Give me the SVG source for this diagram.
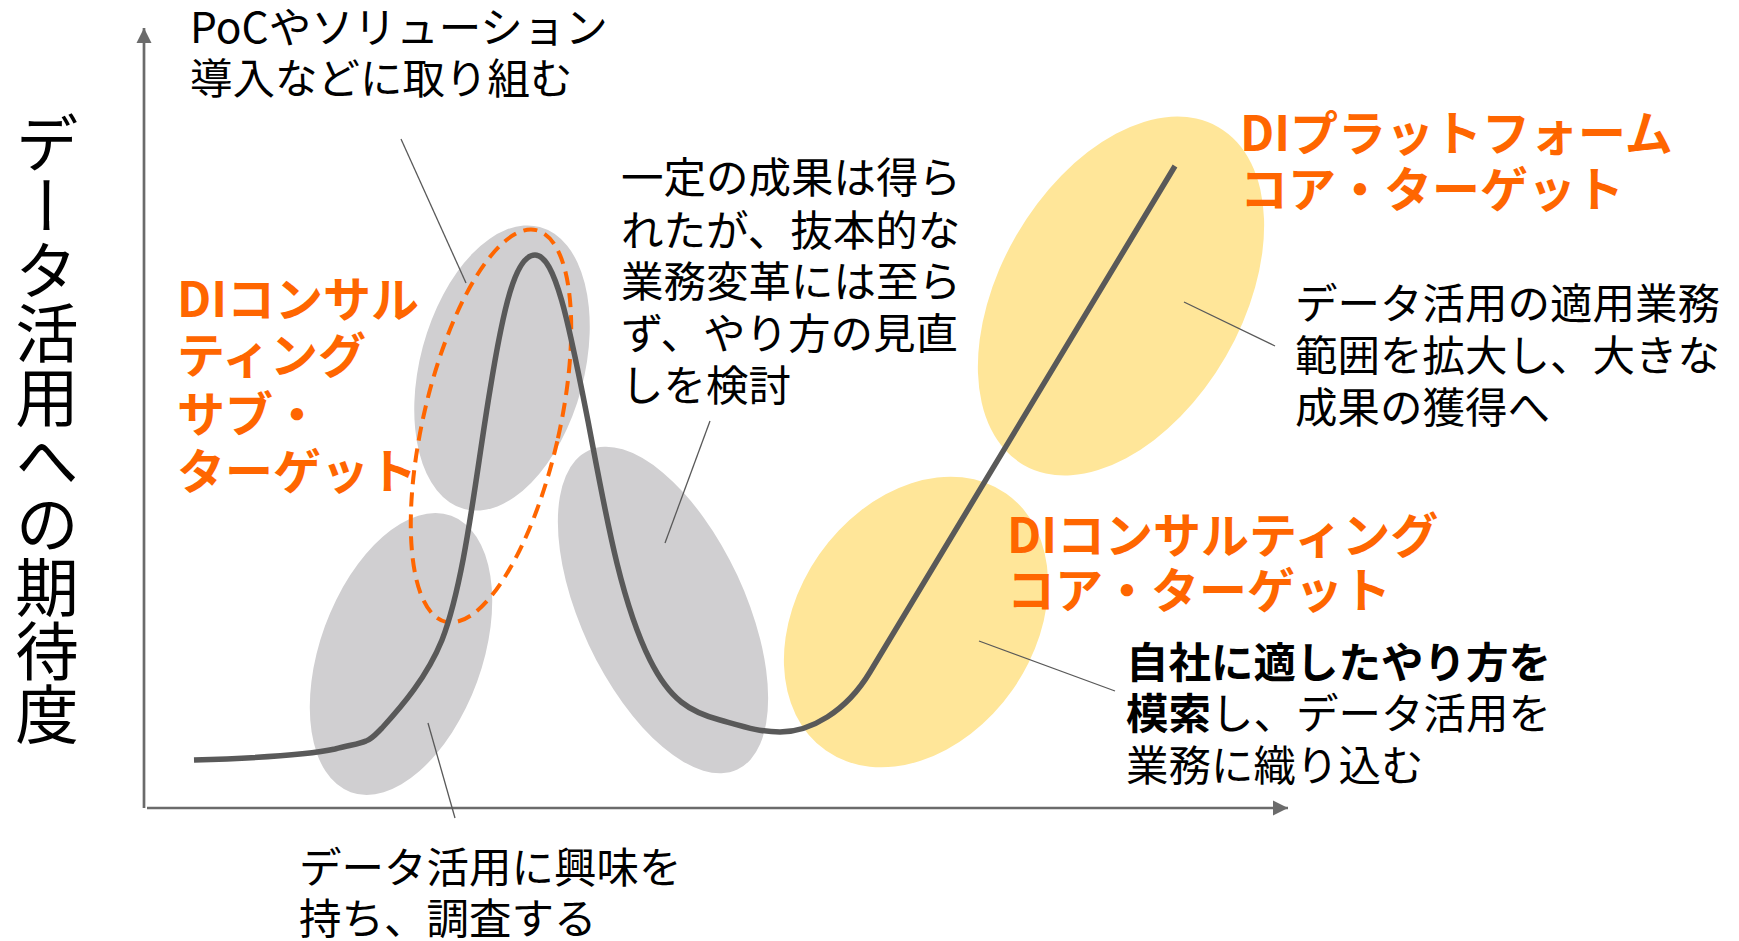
<svg xmlns="http://www.w3.org/2000/svg" width="1739" height="941" viewBox="0 0 1739 941">
<style>
.t{font-family:"Noto Sans CJK JP","Noto Sans",sans-serif;font-size:42.5px;fill:#000}
.o{font-family:"Noto Sans CJK JP","Noto Sans",sans-serif;font-size:48px;font-weight:bold;fill:#FF6600}
.b{font-weight:bold}
.gray{fill:#D0CFD1}
.yel{fill:#FFE699}
.lead{stroke:#595959;stroke-width:1.3;fill:none}
.axis{stroke:#6B6B6B;stroke-width:2.7;fill:none}
</style>
<defs>
<marker id="arr" viewBox="0 0 10 10" refX="10" refY="5" markerWidth="5.7" markerHeight="5.9" orient="auto" markerUnits="strokeWidth">
<path d="M0,0 L10,5 L0,10 z" fill="#6B6B6B"/>
</marker>
</defs>
<rect width="1739" height="941" fill="#fff"/>
<g id="axes">
<line class="axis" x1="144" y1="808" x2="144" y2="28" marker-end="url(#arr)"/>
<line class="axis" x1="147" y1="808" x2="1288" y2="808" marker-end="url(#arr)"/>
<text x="47" y="111" style="writing-mode:vertical-rl;font-family:'Noto Sans CJK JP',sans-serif;font-size:63.5px" fill="#000">データ活用への期待度</text>
</g>
<g id="ellipses">
<ellipse id="e-interest" class="gray" cx="401" cy="654" rx="81" ry="147" transform="rotate(20 401 654)"/>
<ellipse id="e-poc" class="gray" cx="502" cy="368" rx="82" ry="146" transform="rotate(15 502 368)"/>
<ellipse id="e-review" class="gray" cx="663" cy="610" rx="82" ry="176" transform="rotate(-25 663 610)"/>
<ellipse id="e-core" class="yel" cx="916" cy="622" rx="118" ry="157" transform="rotate(35 916 622)"/>
<ellipse id="e-platform" class="yel" cx="1121" cy="296" rx="121" ry="195" transform="rotate(30 1121 296)"/>
<ellipse id="e-sub" cx="491" cy="426" rx="68" ry="201" transform="rotate(13 491 426)" fill="none" stroke="#FF6600" stroke-width="4" stroke-dasharray="14 8"/>
</g>
<g id="connectors">
<line class="lead" x1="401" y1="139" x2="466" y2="283"/>
<line class="lead" x1="710" y1="421" x2="665" y2="543"/>
<line class="lead" x1="1184" y1="302" x2="1275" y2="346"/>
<line class="lead" x1="979" y1="641" x2="1115" y2="691"/>
<line class="lead" x1="428" y1="723" x2="455" y2="818"/>
<path id="curve" d="M194,760 C260,758 312,754 335,749 C350,745 360,744 366,741 C372,739 376,734 382,728 C402,706 427,677 442,640 C465,580 475,480 490,390 C503,310 515,255 535,255 C556,255 570,330 588,421 C605,510 620,600 650,660 C670,700 690,712 720,720 C745,727 760,732 780,732 C810,732 846,712 870,672 L1175,166" fill="none" stroke="#595959" stroke-width="5.5" stroke-linejoin="round"/>
</g>
<g id="label-poc">
<text class="t" x="190" y="43">PoCやソリューション</text>
<text class="t" x="190" y="94">導入などに取り組む</text>
</g>
<g id="label-review">
<text class="t" x="621" y="193">一定の成果は得ら</text>
<text class="t" x="621" y="246">れたが、抜本的な</text>
<text class="t" x="621" y="297">業務変革には至ら</text>
<text class="t" x="621" y="349">ず、やり方の見直</text>
<text class="t" x="621" y="401">しを検討</text>
</g>
<g id="label-sub">
<text class="o" x="177" y="317">DIコンサル</text>
<text class="o" x="177" y="373">ティング</text>
<text class="o" x="177" y="432">サブ・</text>
<text class="o" x="177" y="489">ターゲット</text>
</g>
<g id="label-platform">
<text class="o" x="1240" y="151">DIプラットフォーム</text>
<text class="o" x="1240" y="207">コア・ターゲット</text>
</g>
<g id="label-expand">
<text class="t" x="1295" y="319">データ活用の適用業務</text>
<text class="t" x="1295" y="371">範囲を拡大し、大きな</text>
<text class="t" x="1295" y="423">成果の獲得へ</text>
</g>
<g id="label-core">
<text class="o" x="1007" y="553">DIコンサルティング</text>
<text class="o" x="1007" y="608">コア・ターゲット</text>
</g>
<g id="label-own">
<text class="t b" x="1126" y="678">自社に適したやり方を</text>
<text class="t" x="1126" y="729"><tspan class="b">模索</tspan>し、データ活用を</text>
<text class="t" x="1126" y="781">業務に織り込む</text>
</g>
<g id="label-interest">
<text class="t" x="299" y="883">データ活用に興味を</text>
<text class="t" x="299" y="934">持ち、調査する</text>
</g>
</svg>
